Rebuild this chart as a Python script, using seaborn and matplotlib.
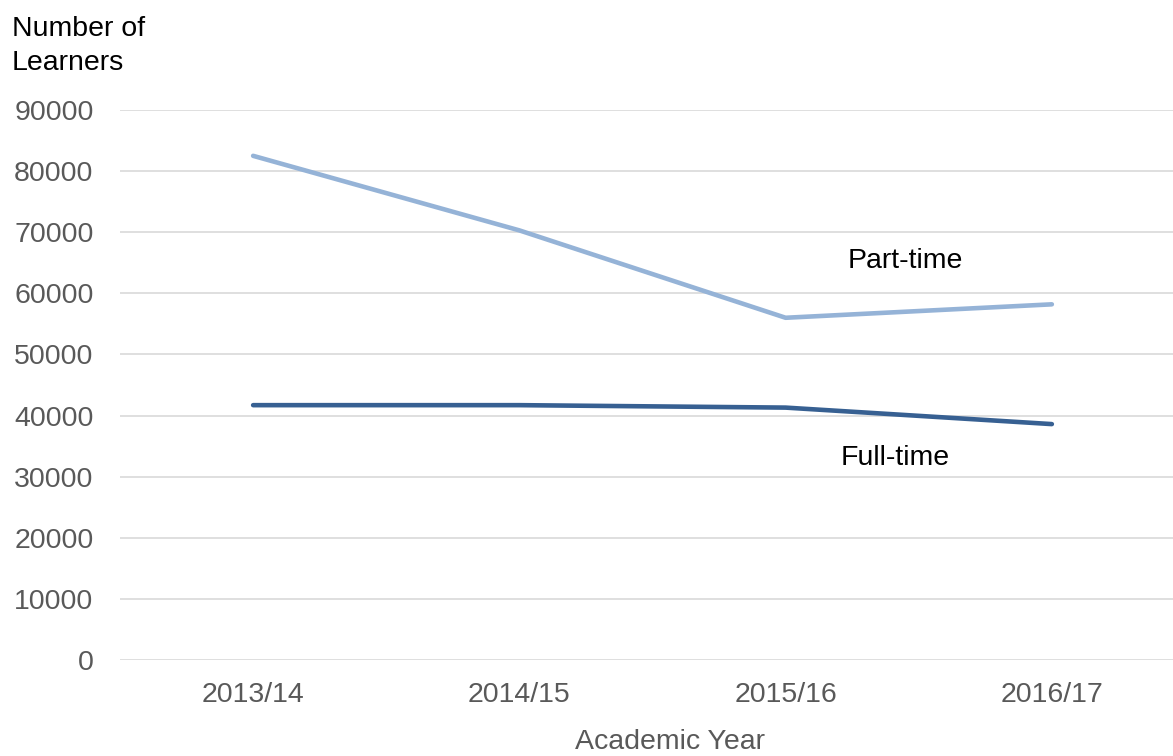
import matplotlib
matplotlib.use("Agg")
import matplotlib.pyplot as plt
import seaborn as sns
import pandas as pd

years = ["2013/14", "2014/15", "2015/16", "2016/17"]
part_time = [82500, 70300, 56000, 58200]
full_time = [41700, 41700, 41300, 38600]
yticks = [0, 10000, 20000, 30000, 40000, 50000, 60000, 70000, 80000, 90000]

df = pd.DataFrame({
    "Academic Year": years * 2,
    "Learners": part_time + full_time,
    "Mode": ["Part-time"] * 4 + ["Full-time"] * 4,
})

sns.set_theme(style="white")
plt.rcParams["font.family"] = ["Liberation Sans", "DejaVu Sans"]

fig = plt.figure(figsize=(11.73, 7.56), dpi=100)
ax = fig.add_axes([0.1023, 0.127, 0.8977, 0.7275])

palette = {"Part-time": "#95B3D7", "Full-time": "#376092"}
sns.lineplot(data=df, x="Academic Year", y="Learners", hue="Mode",
             palette=palette, linewidth=3.3, sort=False, legend=False, ax=ax,
             solid_capstyle="round", zorder=3)

ax.set_xlim(-0.5, 3.455)
ax.set_ylim(0, 90000)
ax.set_yticks(yticks)
ax.set_yticklabels([str(v) for v in yticks])
ax.yaxis.grid(True, color="#D9D9D9", linewidth=1.2)
ax.xaxis.grid(False)
for s in ax.spines.values():
    s.set_visible(False)
ax.tick_params(axis="y", length=0, pad=19, labelsize=20.5, labelcolor="#595959")
ax.tick_params(axis="x", length=0, pad=16, labelsize=20.5, labelcolor="#595959")
ax.set_xlabel("")
ax.set_ylabel("")

fig.text(670 / 1173, 1 - 742 / 756, "Academic Year", ha="center", va="center",
         fontsize=20.5, color="#595959")
fig.text(12 / 1173, 1 - 16 / 756, "Number of\nLearners", ha="left", va="top",
         fontsize=20.5, color="#000000", linespacing=1.38)

ax.text(2.45, 65300, "Part-time", ha="center", va="center", fontsize=20.5, color="#000000")
ax.text(2.41, 33000, "Full-time", ha="center", va="center", fontsize=20.5, color="#000000")

fig.savefig("out.png", dpi=100)
